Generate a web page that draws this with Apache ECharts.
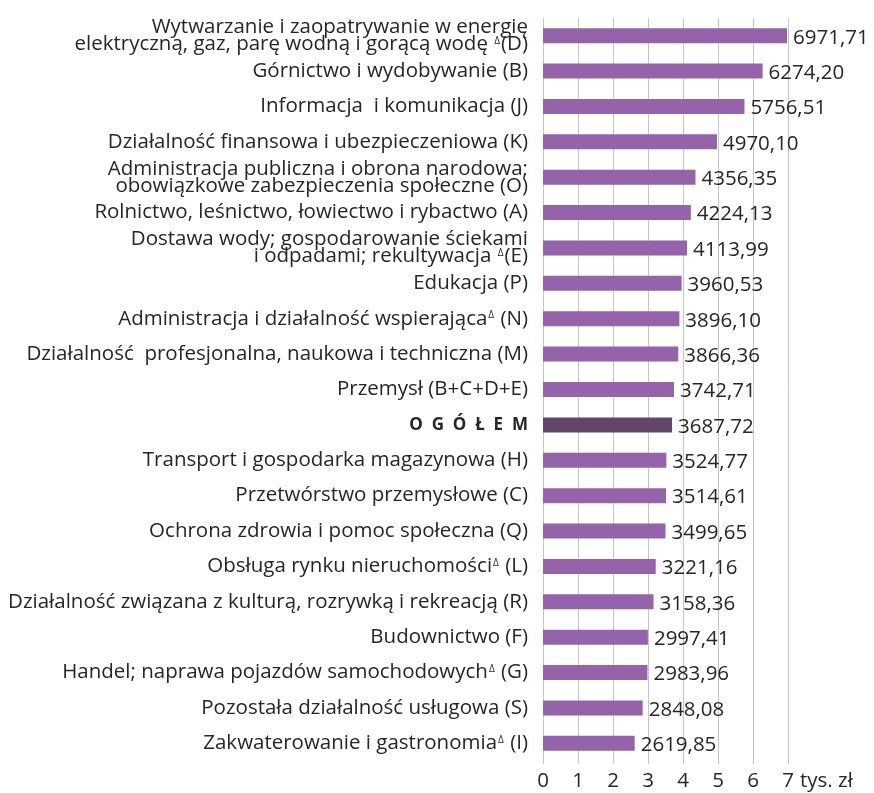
<!DOCTYPE html>
<html><head><meta charset="utf-8">
<script src="https://cdn.jsdelivr.net/npm/echarts@6/dist/echarts.min.js"></script>
<style>html,body{margin:0;padding:0;background:#fff}#c{width:874px;height:793px}</style>
</head><body><div id="c"></div>
<script>
const categories = [
  "Wytwarzanie i zaopatrywanie w energię\nelektryczną, gaz, parę wodną i gorącą wodę Δ(D)",
  "Górnictwo i wydobywanie (B)",
  "Informacja  i komunikacja (J)",
  "Działalność finansowa i ubezpieczeniowa (K)",
  "Administracja publiczna i obrona narodowa;\nobowiązkowe zabezpieczenia społeczne (O)",
  "Rolnictwo, leśnictwo, łowiectwo i rybactwo (A)",
  "Dostawa wody; gospodarowanie ściekami\ni odpadami; rekultywacja Δ(E)",
  "Edukacja (P)",
  "Administracja i działalność wspierającaΔ (N)",
  "Działalność  profesjonalna, naukowa i techniczna (M)",
  "Przemysł (B+C+D+E)",
  "O G Ó Ł E M",
  "Transport i gospodarka magazynowa (H)",
  "Przetwórstwo przemysłowe (C)",
  "Ochrona zdrowia i pomoc społeczna (Q)",
  "Obsługa rynku nieruchomościΔ (L)",
  "Działalność związana z kulturą, rozrywką i rekreacją (R)",
  "Budownictwo (F)",
  "Handel; naprawa pojazdów samochodowychΔ (G)",
  "Pozostała działalność usługowa (S)",
  "Zakwaterowanie i gastronomiaΔ (I)"
];
const values = [6971.71, 6274.20, 5756.51, 4970.10, 4356.35, 4224.13, 4113.99, 3960.53, 3896.10, 3866.36, 3742.71, 3687.72, 3524.77, 3514.61, 3499.65, 3221.16, 3158.36, 2997.41, 2983.96, 2848.08, 2619.85];
const totalLabel = "O G Ó Ł E M";
const xTicks = ["0","1","2","3","4","5","6","7"];
const unitLabel = "tys. zł";

const FONT = "'Open Sans', sans-serif";
const FS = 20.5;
const TXT = '#262626';
const chart = echarts.init(document.getElementById('c'));
chart.setOption({
  animation: false,
  grid: { left: 543, right: 86, top: 18, bottom: 32, containLabel: false },
  xAxis: {
    type: 'value', min: 0, max: 7000, interval: 1000,
    axisLine: { show: false },
    axisTick: { show: true, length: 3, lineStyle: { color: '#c6c6c6' } },
    splitLine: { lineStyle: { color: '#c6c6c6', width: 1 } },
    axisLabel: { formatter: v => xTicks[Math.round(v / 1000)], color: TXT, fontFamily: FONT, fontSize: FS, margin: 10 },
    name: unitLabel, nameLocation: 'end', nameGap: 12,
    nameTextStyle: { color: TXT, fontFamily: FONT, fontSize: FS, verticalAlign: 'top', padding: [10, 0, 0, 0] }
  },
  yAxis: {
    type: 'category', inverse: true, data: categories,
    axisLine: { show: false }, axisTick: { show: false },
    axisLabel: {
      margin: 15, color: TXT, fontFamily: FONT, fontSize: FS, lineHeight: 17, align: 'right',
      formatter: v => {
        if (v === totalLabel) return '{b|' + v.split(' ').join('  ') + '}';
        return v.split('\n').map(l => l.split('Δ').map(p => p.length ? '{t|' + p + '}' : '').join('{s|Δ}')).join('\n');
      },
      rich: {
        t: { fontFamily: FONT, fontSize: FS, lineHeight: 17, color: TXT },
        s: { fontFamily: FONT, fontSize: 10, lineHeight: 17, color: TXT, verticalAlign: 'top', padding: [0, 1, 0, 1] },
        b: { fontFamily: FONT, fontSize: 17, fontWeight: 'bold', lineHeight: 17, color: TXT }
      }
    }
  },
  series: [{
    type: 'bar', barWidth: 15,
    data: values.map((v, i) => ({ value: v, itemStyle: { color: categories[i] === totalLabel ? '#63456b' : '#9563aa' } })),
    label: {
      show: true, position: 'right', distance: 6, color: TXT, fontFamily: FONT, fontSize: FS,
      offset: [0, 2],
      formatter: p => p.value.toFixed(2).replace('.', ',')
    }
  }]
});
</script></body></html>
